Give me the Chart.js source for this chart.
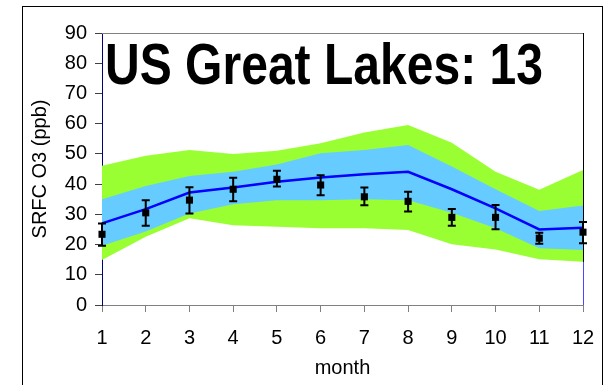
<!DOCTYPE html>
<html>
<head>
<meta charset="utf-8">
<script src="https://cdn.jsdelivr.net/npm/chart.js@4/dist/chart.umd.min.js"></script>
<style>
  html, body { margin: 0; padding: 0; background: #fff; }
  #wrap { width: 608px; height: 385px; position: relative; }
</style>
</head>
<body>
<div id="wrap"><canvas id="c" width="608" height="385"></canvas></div>
<script>
// Monthly surface ozone, US Great Lakes region
const months = ['1', '2', '3', '4', '5', '6', '7', '8', '9', '10', '11', '12'];
const yTicks = [0, 10, 20, 30, 40, 50, 60, 70, 80, 90];

// model spread: outer (green) and inner (blue) envelopes
const outerLow  = [14.9, 22.6, 28.7, 26.4, 25.9, 25.4, 25.4, 24.8, 20.1, 18.4, 15.1, 14.3];
const outerHigh = [46.1, 49.4, 51.3, 50.0, 51.0, 53.5, 57.1, 59.6, 53.7, 44.1, 38.1, 44.7];
const innerLow  = [19.6, 24.3, 30.3, 33.3, 34.7, 34.7, 35.0, 34.7, 30.5, 25.4, 18.8, 18.2];
const innerHigh = [35.0, 39.4, 42.7, 44.1, 46.5, 50.2, 51.3, 52.9, 45.8, 38.3, 31.1, 32.9];

// model mean
const modelMean = [27.0, 31.7, 37.2, 38.9, 40.8, 42.2, 43.3, 44.1, 38.3, 32.0, 25.0, 25.6];

// observations with error range
const obsMean = [23.4, 30.5, 34.7, 38.3, 41.6, 39.7, 35.8, 34.3, 29.0, 29.0, 22.1, 24.1];
const obsLow  = [19.6, 26.2, 30.3, 34.3, 39.2, 36.3, 33.0, 30.9, 26.2, 25.1, 20.3, 20.4];
const obsHigh = [27.0, 34.7, 39.0, 42.1, 44.4, 42.9, 38.9, 37.5, 31.8, 33.1, 23.9, 27.5];

const titleText = 'US Great Lakes: 13';
const FONT = '"Liberation Sans", Arial, Helvetica, sans-serif';
const OBS_INDEX = 5;

// outer box and plot frame
const framePlugin = {
  id: 'frame',
  beforeDraw(chart) {
    const ctx = chart.ctx;
    ctx.save();
    ctx.fillStyle = '#fff';
    ctx.fillRect(0, 0, chart.width, chart.height);
    ctx.strokeStyle = '#000';
    ctx.lineWidth = 1;
    ctx.strokeRect(22.5, 6.5, 580, chart.height + 10);
    ctx.restore();
  },
  beforeDatasetsDraw(chart) {
    const ctx = chart.ctx, a = chart.chartArea;
    const y = chart.scales.y;
    ctx.save();
    ctx.lineWidth = 1;
    ctx.strokeStyle = '#808080';
    ctx.beginPath();
    ctx.moveTo(a.left, Math.round(a.top) + 0.5);
    ctx.lineTo(a.right, Math.round(a.top) + 0.5);
    ctx.stroke();
    const xr = Math.round(a.right) + 0.5;
    ctx.strokeStyle = '#000';
    ctx.beginPath();
    ctx.moveTo(xr, a.top);
    ctx.lineTo(xr, a.bottom);
    ctx.stroke();
    ctx.strokeStyle = '#4848ff';
    ctx.beginPath();
    ctx.moveTo(xr, y.getPixelForValue(outerLow[outerLow.length - 1]));
    ctx.lineTo(xr, a.bottom);
    ctx.stroke();
    ctx.restore();
  }
};

// vertical error bars under the observation markers
const errorBarPlugin = {
  id: 'errorBars',
  beforeDatasetDraw(chart, args) {
    if (args.index !== OBS_INDEX) return;
    const ctx = chart.ctx, xs = chart.scales.x, ys = chart.scales.y;
    ctx.save();
    ctx.strokeStyle = '#000';
    ctx.lineWidth = 2;
    const cap = 4;
    for (let i = 0; i < obsMean.length; i++) {
      const x = xs.getPixelForValue(i);
      const yl = ys.getPixelForValue(obsLow[i]);
      const yh = ys.getPixelForValue(obsHigh[i]);
      ctx.beginPath();
      ctx.moveTo(x, yl); ctx.lineTo(x, yh);
      ctx.moveTo(x - cap, yl); ctx.lineTo(x + cap, yl);
      ctx.moveTo(x - cap, yh); ctx.lineTo(x + cap, yh);
      ctx.stroke();
    }
    ctx.restore();
  }
};

// large title inside the plot
const titlePlugin = {
  id: 'bigTitle',
  afterDraw(chart) {
    const ctx = chart.ctx;
    ctx.save();
    ctx.font = 'bold 58px ' + FONT;
    ctx.fillStyle = '#000';
    ctx.textBaseline = 'alphabetic';
    ctx.textAlign = 'left';
    const w = ctx.measureText(titleText).width;
    const sx = 438 / w;
    ctx.translate(105, 84);
    ctx.scale(sx, 1);
    ctx.fillText(titleText, 0, 0);
    ctx.restore();
  }
};

new Chart(document.getElementById('c'), {
  type: 'line',
  data: {
    labels: months,
    datasets: [
      { data: outerLow, borderWidth: 0, pointRadius: 0, fill: false, order: 6 },
      { data: outerHigh, borderWidth: 0, pointRadius: 0, fill: 0, backgroundColor: '#99FF33', order: 6 },
      { data: innerLow, borderWidth: 0, pointRadius: 0, fill: false, order: 5 },
      { data: innerHigh, borderWidth: 0, pointRadius: 0, fill: 2, backgroundColor: '#66CCFF', order: 5 },
      { data: modelMean, borderColor: '#0000FF', borderWidth: 2.5, pointRadius: 0, fill: false, tension: 0, order: 3 },
      { data: obsMean, showLine: false, pointStyle: 'rect', pointRadius: 5, pointBackgroundColor: '#000',
        pointBorderColor: '#000', pointBorderWidth: 0, fill: false, clip: false, order: 1 }
    ]
  },
  options: {
    responsive: false,
    animation: false,
    events: [],
    layout: { padding: { left: 22, right: 25, top: 33, bottom: 0 } },
    plugins: { legend: { display: false }, tooltip: { enabled: false }, title: { display: false } },
    scales: {
      x: {
        type: 'category',
        offset: false,
        grid: { drawOnChartArea: false, drawTicks: true, tickLength: 7, tickColor: '#808080', offset: false },
        border: { color: '#808080', width: 1 },
        ticks: { color: '#000', font: { family: FONT, size: 20 }, padding: 14, maxRotation: 0, autoSkip: false },
        title: { display: true, text: 'month', color: '#000', font: { family: FONT, size: 20 }, padding: { top: 0, bottom: 5 } },
        afterFit(scale) { scale.height = 80; scale.paddingLeft = 0; scale.paddingRight = 0; }
      },
      y: {
        min: 0, max: 90,
        afterBuildTicks(scale) { scale.ticks = yTicks.map(v => ({ value: v })); },
        grid: { drawOnChartArea: false, drawTicks: true, tickLength: 7, tickColor: '#404040' },
        border: { color: '#000080', width: 1 },
        ticks: { color: '#000', font: { family: FONT, size: 20 }, padding: 8 },
        title: { display: true, text: 'SRFC O3 (ppb)', color: '#000', font: { family: FONT, size: 20 }, padding: { top: 6, bottom: 0 } },
        afterFit(scale) { scale.width = 80; scale.paddingTop = 0; scale.paddingBottom = 0; }
      }
    }
  },
  plugins: [framePlugin, errorBarPlugin, titlePlugin]
});
</script>
</body>
</html>
